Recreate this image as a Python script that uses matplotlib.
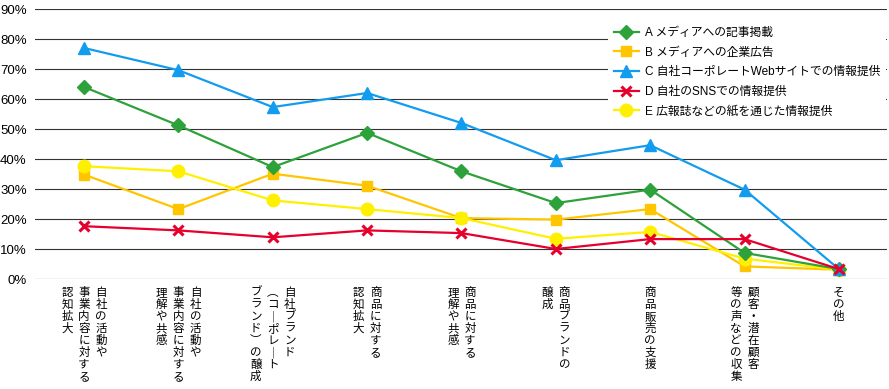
import matplotlib
matplotlib.use("Agg")
import matplotlib.pyplot as plt

plt.rcParams['font.family'] = ['Liberation Sans', 'Noto Sans CJK JP']

# --- data ---
categories = [
    ["自社の活動や", "事業内容に対する", "認知拡大"],
    ["自社の活動や", "事業内容に対する", "理解や共感"],
    ["自社ブランド", "(コーポレート", "ブランド)の醸成"],
    ["商品に対する", "認知拡大"],
    ["商品に対する", "理解や共感"],
    ["商品ブランドの", "醸成"],
    ["商品販売の支援"],
    ["顧客・潜在顧客", "等の声などの収集"],
    ["その他"],
]
series_names = [
    "A メディアへの記事掲載",
    "B メディアへの企業広告",
    "C 自社コーポレートWebサイトでの情報提供",
    "D 自社のSNSでの情報提供",
    "E 広報誌などの紙を通じた情報提供",
]
a_media_article = [64.0, 51.2, 37.3, 48.7, 35.9, 25.3, 29.8, 8.7, 3.3]
b_media_ad = [34.8, 23.3, 35.1, 31.1, 20.3, 19.8, 23.3, 4.2, 3.1]
c_corp_web = [77.0, 69.6, 57.3, 62.0, 52.0, 39.6, 44.6, 29.8, 3.3]
d_own_sns = [17.6, 16.2, 13.9, 16.2, 15.3, 10.0, 13.3, 13.3, 3.3]
e_print = [37.6, 35.9, 26.2, 23.3, 20.3, 13.4, 15.7, 6.8, 3.1]

yticks = list(range(0, 100, 10))

fig = plt.figure(figsize=(8.89, 3.89), dpi=100)
ax = fig.add_axes([35 / 889, 110 / 389, 852 / 889, 270 / 389])

x = list(range(len(categories)))

styles = [
    (a_media_article, "#2ea23a", "D", 7.5, 1),
    (b_media_ad, "#ffc600", "s", 7.5, 1),
    (c_corp_web, "#129cf0", "^", 8.5, 1),
    (d_own_sns, "#e6002d", "x", 7.5, 2.2),
    (e_print, "#fff000", "o", 9, 1),
]
zorders = [3, 2.5, 3.5, 5, 2.8]
handles = []
for (vals, col, mk, ms, mew), name, z in zip(styles, series_names, zorders):
    h, = ax.plot(x, vals, color=col, marker=mk, markersize=ms,
                 markeredgewidth=mew, markeredgecolor=col, linewidth=1.6,
                 label=name, zorder=z)
    handles.append(h)

ax.set_xlim(-0.52, 8.51)
ax.set_ylim(0, 90)
ax.set_yticks(yticks)
ax.set_yticklabels([f"{v}%" for v in yticks], fontsize=9.5)
ax.tick_params(axis='y', length=0, pad=6)
ax.set_xticks([])
for s in ax.spines.values():
    s.set_visible(False)
for v in yticks:
    ax.axhline(v, color="#333333", linewidth=0.8, zorder=1)

# vertical (tategaki) category labels, one char at a time, columns right to left
vert_map = {"(": "︵", ")": "︶", "ー": "｜"}
pitch = 12
col_gap = 17
for i, cols in enumerate(categories):
    n = len(cols)
    for j, col_text in enumerate(cols):
        dx = (n - 1) / 2 * col_gap - j * col_gap
        dy = 8
        for ch in col_text:
            ax.annotate(vert_map.get(ch, ch), xy=(i, 0),
                        xycoords=('data', 'axes fraction'),
                        xytext=(dx, -(dy + pitch / 2)), textcoords='offset pixels',
                        ha='center', va='center', fontsize=8.3,
                        annotation_clip=False)
            dy += pitch

leg = ax.legend(handles=handles, loc='upper left',
                bbox_to_anchor=(608 / 889, 1 - 21 / 389),
                bbox_transform=fig.transFigure, fontsize=8.5,
                handlelength=2.1, handletextpad=0.5, labelspacing=0.65,
                borderpad=0.5, borderaxespad=0, frameon=True, fancybox=False)
leg.get_frame().set_facecolor("white")
leg.get_frame().set_edgecolor("none")
leg.get_frame().set_alpha(1)
leg.set_zorder(10)

fig.savefig("out.png", dpi=100)
